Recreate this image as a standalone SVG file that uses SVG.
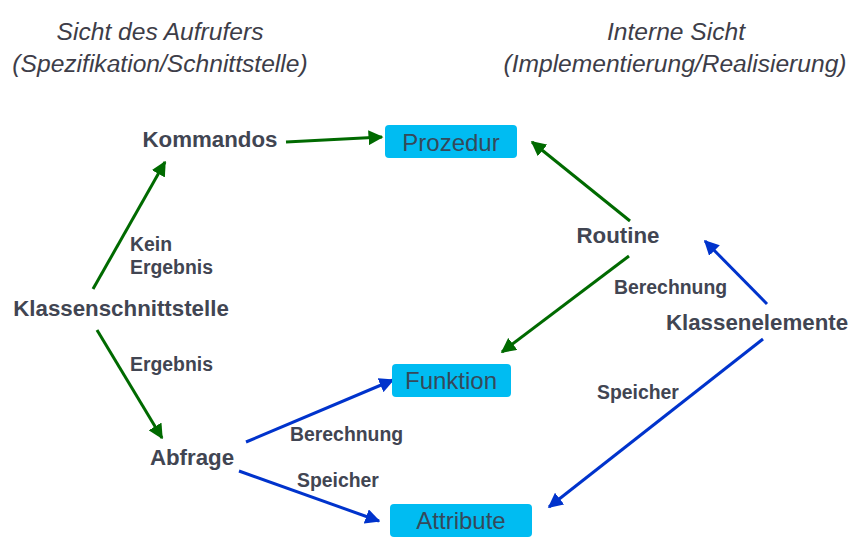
<svg xmlns="http://www.w3.org/2000/svg" width="854" height="541" viewBox="0 0 854 541">
<style>
.hdr{font-family:"Liberation Sans",Arial,sans-serif;font-style:italic;font-size:24.6px;fill:#3d3d48;text-anchor:middle}
.node{font-family:"Liberation Sans",Arial,sans-serif;font-weight:bold;font-size:22.3px;fill:#414552;text-anchor:middle}
.lbl{font-family:"Liberation Sans",Arial,sans-serif;font-weight:bold;font-size:19.4px;fill:#414552}
.box{fill:#00bcf2;}
.boxt{font-family:"Liberation Sans",Arial,sans-serif;font-size:24px;fill:#35495a;text-anchor:middle}
.g{stroke:#006a00;stroke-width:3;fill:none;marker-end:url(#ag)}
.b{stroke:#0033cc;stroke-width:3;fill:none;marker-end:url(#ab)}
</style>
<defs>
<marker id="ag" viewBox="0 0 10 10" refX="9" refY="5" markerWidth="5" markerHeight="5" orient="auto" markerUnits="strokeWidth">
<path d="M0,0 L10,5 L0,10 z" fill="#006a00"/>
</marker>
<marker id="ab" viewBox="0 0 10 10" refX="9" refY="5" markerWidth="5" markerHeight="5" orient="auto" markerUnits="strokeWidth">
<path d="M0,0 L10,5 L0,10 z" fill="#0033cc"/>
</marker>
</defs>
<rect width="854" height="541" fill="#ffffff"/>
<g id="headers">
<text class="hdr" x="160" y="40">Sicht des Aufrufers</text>
<text class="hdr" x="160" y="72">(Spezifikation/Schnittstelle)</text>
<text class="hdr" x="676" y="40">Interne Sicht</text>
<text class="hdr" x="675" y="72">(Implementierung/Realisierung)</text>
</g>
<g id="connectors">
<line class="g" x1="286" y1="142" x2="382" y2="137"/>
<line class="g" x1="93" y1="289" x2="165" y2="162"/>
<line class="g" x1="97" y1="330" x2="162" y2="438"/>
<line class="g" x1="630" y1="221" x2="532" y2="142"/>
<line class="g" x1="629" y1="256" x2="502" y2="352"/>
<line class="b" x1="767" y1="304" x2="705" y2="241"/>
<line class="b" x1="763" y1="339" x2="549" y2="507"/>
<line class="b" x1="246" y1="442" x2="393" y2="380"/>
<line class="b" x1="239" y1="471" x2="379" y2="521"/>
</g>
<g id="edge-labels">
<text class="lbl" x="130" y="251">Kein</text>
<text class="lbl" x="130" y="274">Ergebnis</text>
<text class="lbl" x="130" y="371">Ergebnis</text>
<text class="lbl" x="290" y="441">Berechnung</text>
<text class="lbl" x="297" y="487">Speicher</text>
<text class="lbl" x="614" y="294">Berechnung</text>
<text class="lbl" x="597" y="399">Speicher</text>
</g>
<g id="n-kommandos"><text class="node" x="210" y="147">Kommandos</text></g>
<g id="n-klassenschnittstelle"><text class="node" x="121" y="316">Klassenschnittstelle</text></g>
<g id="n-abfrage"><text class="node" x="192" y="465">Abfrage</text></g>
<g id="n-routine"><text class="node" x="618" y="243">Routine</text></g>
<g id="n-klassenelemente"><text class="node" x="757" y="330">Klassenelemente</text></g>
<g id="n-prozedur"><rect class="box" x="385" y="125" width="132" height="33" rx="4"/><text class="boxt" x="451" y="151">Prozedur</text></g>
<g id="n-funktion"><rect class="box" x="392" y="364" width="119" height="33" rx="4"/><text class="boxt" x="451" y="389">Funktion</text></g>
<g id="n-attribute"><rect class="box" x="390" y="504" width="142" height="33" rx="4"/><text class="boxt" x="461" y="529">Attribute</text></g>
</svg>
